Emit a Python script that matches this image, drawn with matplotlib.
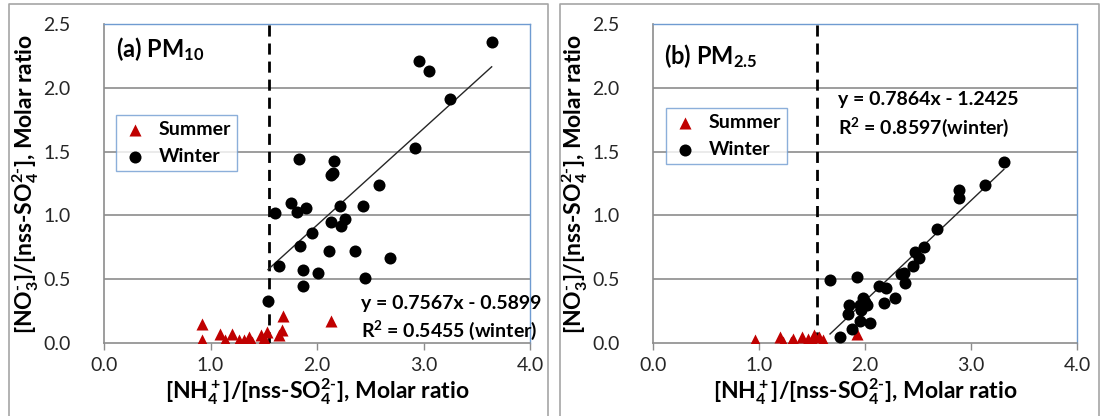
import numpy as np
import matplotlib
matplotlib.use("Agg")
import matplotlib.pyplot as plt
from matplotlib.lines import Line2D

plt.rcParams['font.family'] = ['Lato', 'DejaVu Sans']
plt.rcParams['mathtext.fontset'] = 'custom'
plt.rcParams['mathtext.rm'] = 'Lato:bold'
plt.rcParams['mathtext.it'] = 'Lato:bold'
plt.rcParams['mathtext.bf'] = 'Lato:bold'

# ---- data ----
# (a) PM10
pm10_winter_x = [3.64, 2.96, 3.05, 3.25, 2.92, 1.83, 2.16, 2.13, 2.15, 2.58,
                 1.76, 1.81, 1.90, 1.61, 2.22, 2.43, 2.13, 2.26, 2.23, 1.95,
                 1.84, 2.11, 2.36, 2.69, 1.64, 1.87, 2.01, 2.45, 1.87, 1.54]
pm10_winter_y = [2.36, 2.21, 2.13, 1.91, 1.53, 1.44, 1.43, 1.32, 1.33, 1.24,
                 1.10, 1.03, 1.06, 1.02, 1.07, 1.07, 0.95, 0.97, 0.92, 0.86,
                 0.76, 0.72, 0.72, 0.67, 0.60, 0.57, 0.55, 0.51, 0.45, 0.33]
pm10_summer_x = [0.92, 0.92, 1.09, 1.14, 1.20, 1.27, 1.31, 1.36, 1.39, 1.47,
                 1.50, 1.53, 1.64, 1.67, 1.68, 2.13]
pm10_summer_y = [0.15, 0.02, 0.07, 0.02, 0.07, 0.02, 0.02, 0.05, 0.01, 0.06,
                 0.04, 0.09, 0.06, 0.10, 0.21, 0.17]
pm10_fit = (0.7567, -0.5899)

# (b) PM2.5
pm25_winter_x = [3.31, 3.13, 2.89, 2.89, 2.68, 2.56, 2.47, 2.51, 2.45, 2.37,
                 2.34, 2.38, 1.67, 1.92, 2.13, 2.20, 2.28, 2.18, 1.85, 1.84,
                 1.98, 2.00, 1.95, 2.02, 1.96, 1.95, 2.05, 1.88, 1.76]
pm25_winter_y = [1.42, 1.24, 1.20, 1.14, 0.89, 0.75, 0.71, 0.67, 0.60, 0.55,
                 0.54, 0.47, 0.49, 0.52, 0.45, 0.43, 0.35, 0.31, 0.30, 0.23,
                 0.35, 0.32, 0.30, 0.30, 0.26, 0.17, 0.16, 0.11, 0.05]
pm25_summer_x = [0.96, 1.20, 1.23, 1.30, 1.32, 1.41, 1.46, 1.50, 1.52, 1.57,
                 1.60, 1.92]
pm25_summer_y = [0.02, 0.05, 0.01, 0.01, 0.03, 0.05, 0.03, 0.02, 0.06, 0.05,
                 0.02, 0.07]
pm25_fit = (0.7864, -1.2425)

threshold = 1.55

xlab = r'[NH$_4^+$]/[nss-SO$_4^{2\text{-}}$], Molar ratio'
ylab = r'[NO$_3^{\text{-}}$]/[nss-SO$_4^{2\text{-}}$], Molar ratio'

panels = [
    dict(title=r'(a) PM$_{10}$', wx=pm10_winter_x, wy=pm10_winter_y,
         sx=pm10_summer_x, sy=pm10_summer_y, fit=pm10_fit,
         eq=['y = 0.7567x - 0.5899', r'R$^2$ = 0.5455 (winter)'],
         eq_pos=(2.41, 0.31, 0.10), title_pos=(0.11, 2.30),
         leg=(0.028, 0.715)),
    dict(title=r'(b) PM$_{2.5}$', wx=pm25_winter_x, wy=pm25_winter_y,
         sx=pm25_summer_x, sy=pm25_summer_y, fit=pm25_fit,
         eq=['y = 0.7864x - 1.2425', r'R$^2$ = 0.8597(winter)'],
         eq_pos=(1.75, 1.91, 1.69), title_pos=(0.105, 2.25),
         leg=(0.03, 0.737)),
]

fig = plt.figure(figsize=(11.02, 4.16), dpi=100)
W, H = 1102, 416

# panel frames
for x0, x1 in [(9, 548), (560, 1099)]:
    fig.add_artist(Line2D([x0 / W, x0 / W, x1 / W, x1 / W], [0, 1 - 4 / H, 1 - 4 / H, 0],
                          transform=fig.transFigure, color='#a6a6a6', lw=1.2))

ax_rects = [(104, 530), (653, 1077)]
grid_c = '#8c8c8c'
blue = '#6f9bd1'

for (px0, px1), p in zip(ax_rects, panels):
    ax = fig.add_axes([px0 / W, (416 - 343) / H, (px1 - px0) / W, 319 / H])
    ax.set_xlim(0, 4)
    ax.set_ylim(0, 2.5)
    ax.set_xticks(np.arange(0, 4.1, 1.0))
    ax.set_yticks(np.arange(0, 2.6, 0.5))
    ax.xaxis.set_major_formatter(matplotlib.ticker.FormatStrFormatter('%.1f'))
    ax.yaxis.set_major_formatter(matplotlib.ticker.FormatStrFormatter('%.1f'))
    ax.tick_params(axis='x', length=5, width=1, color=grid_c, labelsize=14,
                   labelcolor='#262626', pad=5)
    ax.tick_params(axis='y', length=0, labelsize=14, labelcolor='#262626', pad=24)
    for y in [0.5, 1.0, 1.5, 2.0]:
        ax.axhline(y, color=grid_c, lw=1.2, zorder=0)
    for s in ['left', 'bottom']:
        ax.spines[s].set_color(grid_c)
        ax.spines[s].set_linewidth(1.2)
    for s in ['top', 'right']:
        ax.spines[s].set_color(blue)
        ax.spines[s].set_linewidth(1.0)

    ax.axvline(threshold, color='black', lw=2, ls=(0, (4, 2.5)), zorder=3)

    ax.scatter(p['sx'], p['sy'], marker='^', s=75, color='#c00000', zorder=4,
               label='Summer', linewidths=0)
    ax.scatter(p['wx'], p['wy'], marker='o', s=75, color='black', zorder=5,
               label='Winter', linewidths=0)

    a, b = p['fit']
    xs = np.array([min(p['wx']), max(p['wx'])])
    ax.plot(xs, a * xs + b, color='#262626', lw=1.0, zorder=4)

    ex, ey1, ey2 = p['eq_pos']
    ax.text(ex, ey1, p['eq'][0], fontsize=14, fontweight='bold', va='center',
            clip_on=False, zorder=6)
    ax.text(ex, ey2, p['eq'][1], fontsize=14, fontweight='bold', va='center',
            clip_on=False, zorder=6)
    tx, ty = p['title_pos']
    ax.text(tx, ty, p['title'], fontsize=17, fontweight='bold', va='center')

    leg = ax.legend(loc='upper left', bbox_to_anchor=p['leg'], fancybox=False,
                    edgecolor=blue, prop=dict(size=14, weight='bold'),
                    borderpad=0.3, labelspacing=0.55, handletextpad=0.5,
                    borderaxespad=0, scatterpoints=1, handlelength=1.4)
    leg.get_frame().set_linewidth(1.0)

    ax.set_xlabel(xlab, fontsize=16.5, fontweight='bold', labelpad=2)
    ax.set_ylabel(ylab, fontsize=16.5, fontweight='bold', labelpad=2)

fig.savefig('out.png', dpi=100)
